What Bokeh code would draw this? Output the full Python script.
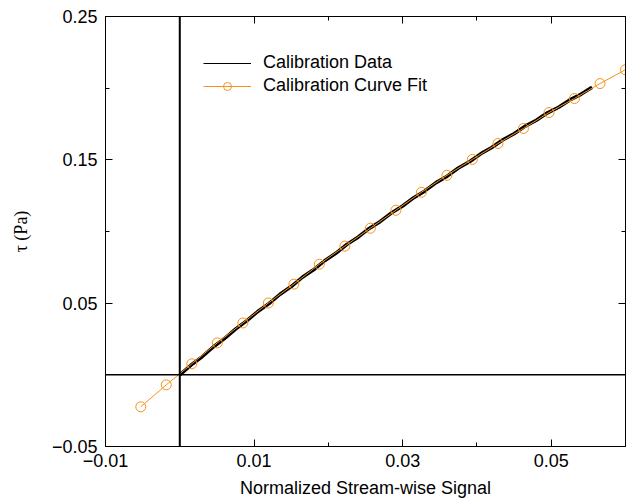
from bokeh.plotting import figure
from bokeh.models import (Span, LinearAxis, FixedTicker, CustomJSTickFormatter,
                          Legend, LegendItem)
from bokeh.embed import file_html
from bokeh.resources import INLINE

# ---- data ----
calib_x = [0.0000, 0.0015, 0.0030, 0.0045, 0.0060, 0.0075, 0.0090, 0.0105, 0.0120,
           0.0135, 0.0150, 0.0165, 0.0180, 0.0195, 0.0210, 0.0225, 0.0240, 0.0255,
           0.0270, 0.0285, 0.0300, 0.0315, 0.0330, 0.0345, 0.0360, 0.0375, 0.0390,
           0.0405, 0.0420, 0.0435, 0.0450, 0.0465, 0.0480, 0.0495, 0.0510, 0.0525,
           0.0540, 0.0555]
calib_y = [0.0000, 0.0067, 0.0126, 0.0194, 0.0252, 0.0319, 0.0376, 0.0442, 0.0497,
           0.0562, 0.0616, 0.0681, 0.0733, 0.0796, 0.0848, 0.0910, 0.0960, 0.1021,
           0.1070, 0.1130, 0.1178, 0.1236, 0.1283, 0.1341, 0.1386, 0.1443, 0.1487,
           0.1542, 0.1586, 0.1640, 0.1682, 0.1735, 0.1776, 0.1828, 0.1867, 0.1918,
           0.1957, 0.2006]

fit_x = [-0.00525, -0.00182, 0.00162, 0.00505, 0.00849, 0.01192, 0.01536, 0.01879,
         0.02222, 0.02566, 0.02909, 0.03253, 0.03596, 0.03939, 0.04283, 0.04626,
         0.04970, 0.05313, 0.05657, 0.06000]
fit_y = [-0.0223, -0.0070, 0.0077, 0.0223, 0.0362, 0.0501, 0.0633, 0.0772, 0.0898,
         0.1023, 0.1148, 0.1274, 0.1392, 0.1503, 0.1614, 0.1719, 0.1830, 0.1928,
         0.2032, 0.2129]

x_major = [-0.01, 0.01, 0.03, 0.05]
x_minor = [0.0, 0.02, 0.04, 0.06]
y_major = [-0.05, 0.05, 0.15, 0.25]
y_minor = [0.0, 0.10, 0.20]

ORANGE = "#F7931A"
FONT = "Liberation Sans"

p = figure(width=628, height=500, x_range=(-0.01, 0.06), y_range=(-0.05, 0.25),
           output_backend="svg", toolbar_location=None,
           min_border_left=105, min_border_right=3, min_border_top=16, min_border_bottom=53)
p.xgrid.visible = False
p.ygrid.visible = False
p.outline_line_color = "black"
p.outline_line_width = 1
p.background_fill_color = "white"
p.border_fill_color = "white"

fmt = CustomJSTickFormatter(code="return tick.toFixed(2).replace('-', '\\u2212');")
blank = CustomJSTickFormatter(code="return '';")

def style(ax, major, minor, labels=True):
    ax.ticker = FixedTicker(ticks=major, minor_ticks=minor)
    ax.axis_line_color = "black"
    ax.major_tick_line_color = "black"
    ax.minor_tick_line_color = "black"
    ax.major_tick_in = 7
    ax.major_tick_out = 0
    ax.minor_tick_in = 4
    ax.minor_tick_out = 0
    if labels:
        ax.formatter = fmt
        ax.major_label_text_font = FONT
        ax.major_label_text_font_size = "18px"
        ax.major_label_text_color = "black"
    else:
        ax.formatter = blank
        ax.major_label_text_font_size = "0px"
        ax.major_label_standoff = 0

xa = p.xaxis[0]
style(xa, x_major, x_minor)
xa.major_label_standoff = 7
xa.axis_label = "Normalized Stream-wise Signal"
xa.axis_label_text_font = FONT
xa.axis_label_text_font_size = "18px"
xa.axis_label_text_font_style = "normal"
xa.axis_label_text_color = "black"
xa.axis_label_standoff = 8

ya = p.yaxis[0]
style(ya, y_major, y_minor)
ya.major_label_standoff = 8
ya.axis_label = "τ (Pa)"
ya.axis_label_text_font = "Liberation Serif"
ya.axis_label_text_font_size = "18px"
ya.axis_label_text_font_style = "normal"
ya.axis_label_text_color = "black"
ya.axis_label_standoff = 18

top = LinearAxis()
style(top, x_major, x_minor, labels=False)
p.add_layout(top, "above")
right = LinearAxis()
style(right, y_major, y_minor, labels=False)
p.add_layout(right, "right")

p.add_layout(Span(location=0, dimension="height", line_color="black", line_width=2))
p.add_layout(Span(location=0, dimension="width", line_color="black", line_width=1.5))

r_cal = p.line(calib_x, calib_y, line_color="black", line_width=3.5)
# thin copy of the same data, used as the legend key
r_cal_key = p.line(calib_x, calib_y, line_color="black", line_width=1)
r_fit_line = p.line(fit_x, fit_y, line_color=ORANGE, line_width=1)
r_fit_pts = p.scatter(fit_x, fit_y, marker="circle", size=10, fill_color=None,
                      line_color=ORANGE, line_width=1)

legend = Legend(items=[
    LegendItem(label="Calibration Data", renderers=[r_cal_key]),
    LegendItem(label="Calibration Curve Fit", renderers=[r_fit_line, r_fit_pts]),
], location=(98, 350))
legend.border_line_color = None
legend.background_fill_alpha = 0
legend.padding = 0
legend.margin = 0
legend.spacing = 2
legend.glyph_width = 48
legend.glyph_height = 20
legend.label_height = 20
legend.label_standoff = 12
legend.label_text_font = FONT
legend.label_text_font_size = "18px"
legend.label_text_color = "black"
p.add_layout(legend, "center")

open("out.html", "w").write(file_html(p, INLINE))
